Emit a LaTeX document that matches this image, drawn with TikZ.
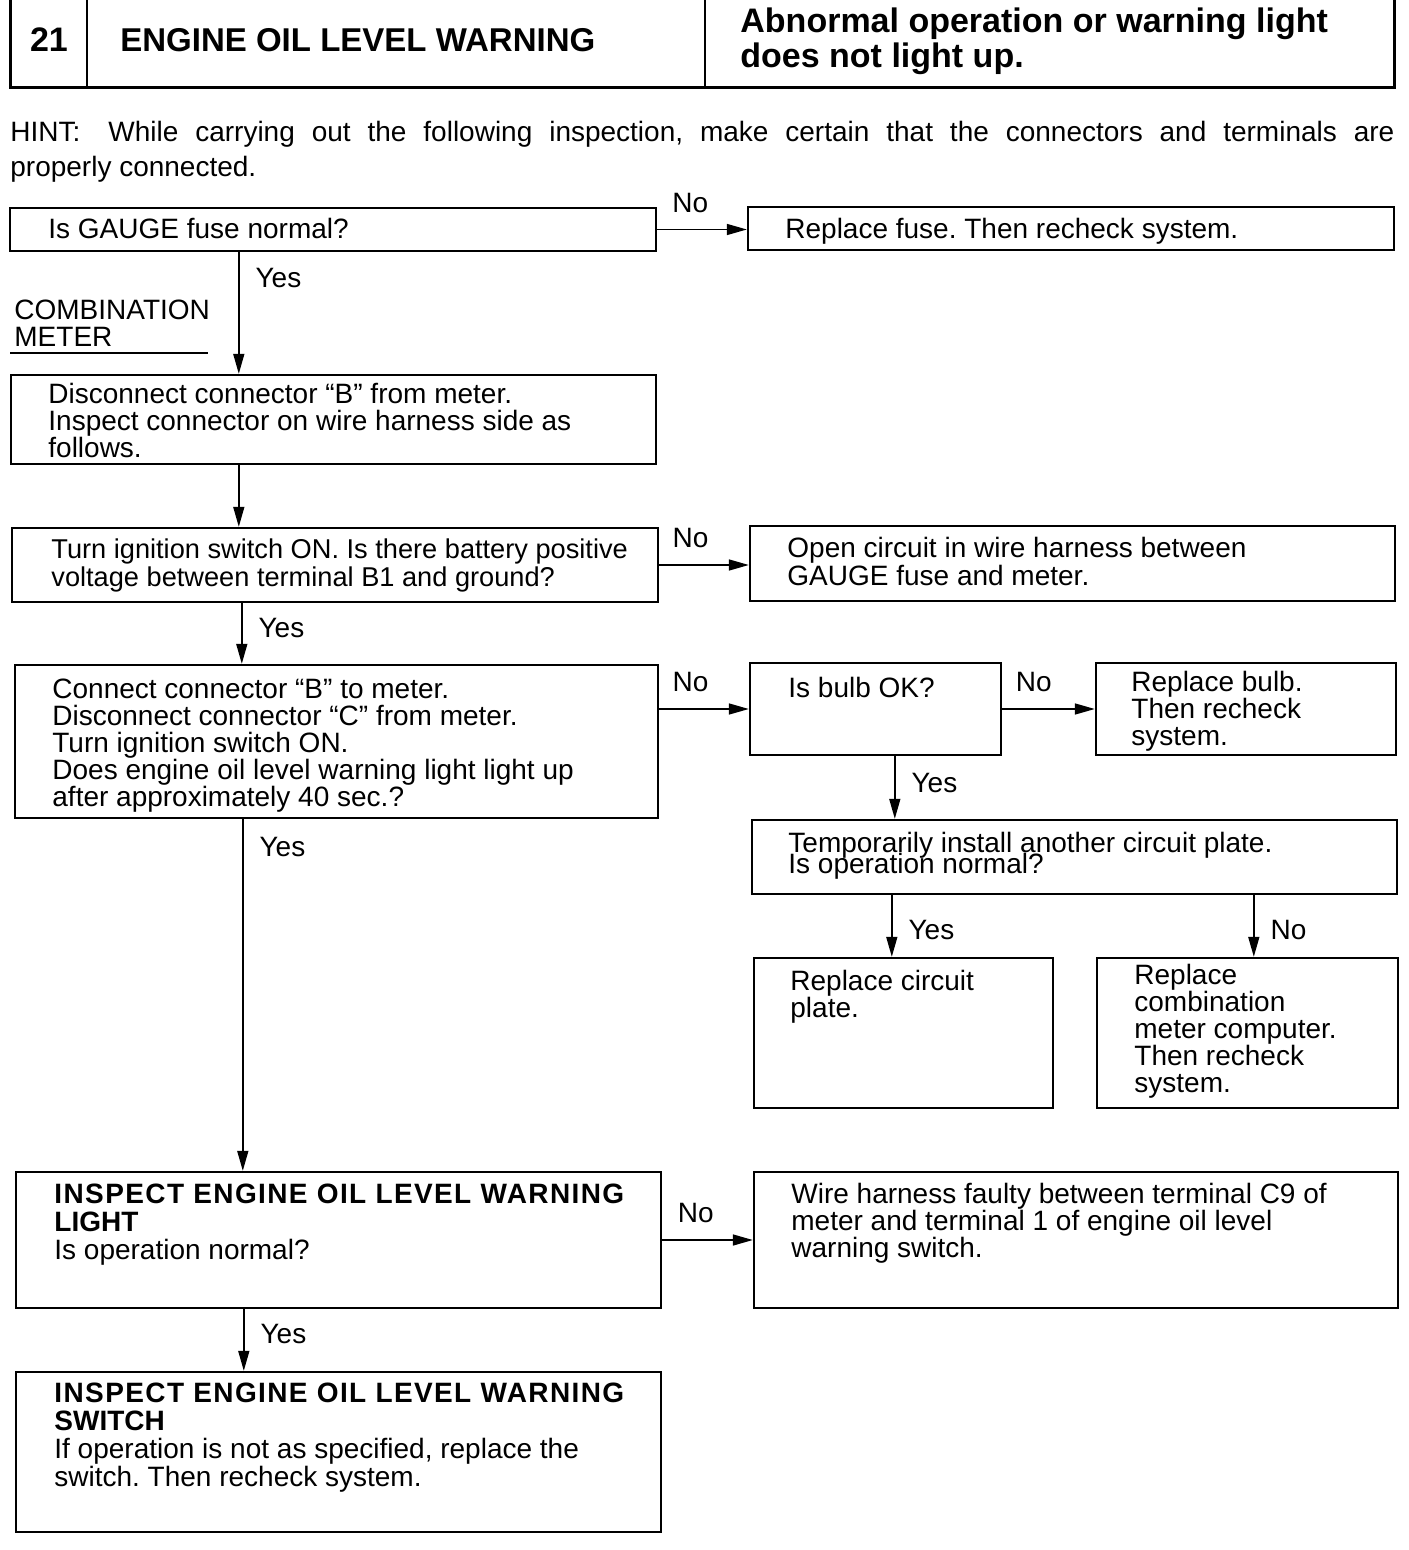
\documentclass[tikz,border=0pt]{standalone}
\usepackage{fontspec}
\setmainfont{Liberation Sans}
\usetikzlibrary{arrows.meta,positioning,fit,calc}
\frenchspacing

\begin{document}
\begin{tikzpicture}[
    x=0.5pt,y=-0.5pt,
    >={Triangle[length=10pt,width=5.5pt]},
    box/.style={rectangle,draw=black,line width=1.2pt,inner sep=0pt},
    % text nodes sit on the baseline of their last line
    txt/.style={anchor=base west,align=left,inner sep=0pt,
                font=\fontsize{14}{13.5}\selectfont},
    hd/.style={anchor=base west,align=left,inner sep=0pt,
               font=\fontsize{17}{17.5}\selectfont\bfseries},
    lbl/.style={inner sep=0pt,font=\fontsize{14}{14}\selectfont},
    fl/.style={->,line width=0.8pt},
]
\useasboundingbox (0,0) rectangle (1408,1550);
\clip (0,0) rectangle (1408,1550);

% title block
\node[box,line width=1.5pt,fit={(10,-10) (1394,88)}] (head) {};
\draw[line width=1.2pt] (87,0 |- head.north) -- (87,0 |- head.south);
\draw[line width=1.2pt] (705,0 |- head.north) -- (705,0 |- head.south);
\node[hd,anchor=base] (num) at (49,52) {21};
\node[hd,font=\fontsize{16.5}{17}\selectfont\bfseries] (title) at (120,52) {ENGINE OIL LEVEL WARNING};
\node[hd] (symptom) at (740,68) {Abnormal operation or warning light\\does not light up.};

\node[txt,font=\fontsize{14}{17.5}\selectfont] (hint) at (10,177)
  {\makebox[692pt][s]{HINT:\quad While carrying out the following inspection, make certain that the connectors and terminals are}\\properly connected.};

% boxes
\node[box,fit={(10,208) (656,251)}] (fuse) {};
\node[txt] (fuseT) at (48,239) {Is GAUGE fuse normal?};
\node[box,fit={(748,207) (1394,250)}] (rfuse) {};
\node[txt] (rfuseT) at (785,239) {Replace fuse. Then recheck system.};

\node[txt] (comb) at (14,347) {COMBINATION\\METER};
\draw[line width=0.8pt] (10,353) -- (208,353);

\node[box,fit={(11,375) (656,464)}] (discon) {};
\node[txt] (disconT) at (48,458) {Disconnect connector “B” from meter.\\Inspect connector on wire harness side as\\follows.};

\node[box,fit={(12,528) (658,602)}] (ign) {};
\node[txt,font=\fontsize{13.6}{13.5}\selectfont] (ignT) at (51,586) {Turn ignition switch ON. Is there battery positive\\voltage between terminal B1 and ground?};
\node[box,fit={(750,526) (1395,601)}] (open) {};
\node[txt] (openT) at (787,585) {Open circuit in wire harness between\\GAUGE fuse and meter.};

\node[box,fit={(15,665) (658,818)}] (conn) {};
\node[txt] (connT) at (52,806) {Connect connector “B” to meter.\\Disconnect connector “C” from meter.\\Turn ignition switch ON.\\Does engine oil level warning light light up\\after approximately 40 sec.?};

\node[box,fit={(750,663) (1001,755)}] (bulb) {};
\node[txt] (bulbT) at (788,697) {Is bulb OK?};
\node[box,fit={(1096,663) (1396,755)}] (rbulb) {};
\node[txt] (rbulbT) at (1131,745) {Replace bulb.\\Then recheck\\system.};

\node[box,fit={(752,820) (1397,894)}] (plate) {};
\node[txt,font={\fontsize{14}{10.5}\selectfont\lineskiplimit=-20pt\relax}] (plateT) at (788,873) {Temporarily install another circuit plate.\\Is operation normal?};

\node[box,fit={(754,958) (1053,1108)}] (rplate) {};
\node[txt] (rplateT) at (790,1017) {Replace circuit\\plate.};
\node[box,fit={(1097,958) (1398,1108)}] (rcomp) {};
\node[txt] (rcompT) at (1134,1092) {Replace\\combination\\meter computer.\\Then recheck\\system.};

\node[box,fit={(16,1172) (661,1308)}] (light) {};
\node[txt,font=\fontsize{14}{14}\selectfont] (lightT) at (54,1259)
  {\textbf{\addfontfeature{LetterSpace=5}INSPECT ENGINE OIL LEVEL WARNING}\\\textbf{LIGHT}\\Is operation normal?};
\node[box,fit={(754,1172) (1398,1308)}] (wire) {};
\node[txt] (wireT) at (791,1257) {Wire harness faulty between terminal C9 of\\meter and terminal 1 of engine oil level\\warning switch.};

\node[box,fit={(16,1372) (661,1532)}] (sw) {};
\node[txt,font=\fontsize{14}{14}\selectfont] (swT) at (54,1486)
  {\textbf{\addfontfeature{LetterSpace=5}INSPECT ENGINE OIL LEVEL WARNING}\\\textbf{SWITCH}\\If operation is not as specified, replace the\\switch. Then recheck system.};

% connectors
\draw[fl] (fuse.east) -- node[lbl,above=8pt,pos=.37] (no1) {No} (fuse.east -| rfuse.west);
\draw[fl] ([xshift=115pt]fuse.south west) -- node[lbl,right=8pt,pos=.21] (yes1) {Yes}
  ([xshift=115pt]fuse.south west |- discon.north);
\draw[fl] ([xshift=114.5pt]discon.south west) -- ([xshift=114.5pt]discon.south west |- ign.north);
\draw[fl] (ign.east) -- node[lbl,above=8pt,pos=.35] (no2) {No} (ign.east -| open.west);
\draw[fl] ([xshift=115.5pt]ign.south west) -- node[lbl,right=8pt,pos=.41] (yes2) {Yes}
  ([xshift=115.5pt]ign.south west |- conn.north);
\draw[fl] (bulb.west -| conn.east) -- node[lbl,above=8pt,pos=.35] (no3) {No} (bulb.west);
\draw[fl] (bulb.east) -- node[lbl,above=8pt,pos=.34] (no4) {No} (rbulb.west);
\draw[fl] ([xshift=73pt]bulb.south west) -- node[lbl,right=8pt,pos=.43] (yes3) {Yes}
  ([xshift=73pt]bulb.south west |- plate.north);
\draw[fl] ([xshift=69.5pt]rplate.north west |- plate.south) -- node[lbl,right=8pt,pos=.56] (yes4) {Yes}
  ([xshift=69.5pt]rplate.north west);
\draw[fl] ([xshift=79pt]rcomp.north west |- plate.south) -- node[lbl,right=8pt,pos=.56] (no5) {No}
  ([xshift=79pt]rcomp.north west);
\draw[fl] ([xshift=114.5pt]conn.south west) -- node[lbl,right=8pt,pos=.08] (yes5) {Yes}
  ([xshift=114.5pt]conn.south west |- light.north);
\draw[fl] (light.east) -- node[lbl,above=8pt,pos=.37] (no6) {No} (light.east -| wire.west);
\draw[fl] ([xshift=114.5pt]light.south west) -- node[lbl,right=8pt,pos=.41] (yes6) {Yes}
  ([xshift=114.5pt]light.south west |- sw.north);

\end{tikzpicture}
\end{document}
